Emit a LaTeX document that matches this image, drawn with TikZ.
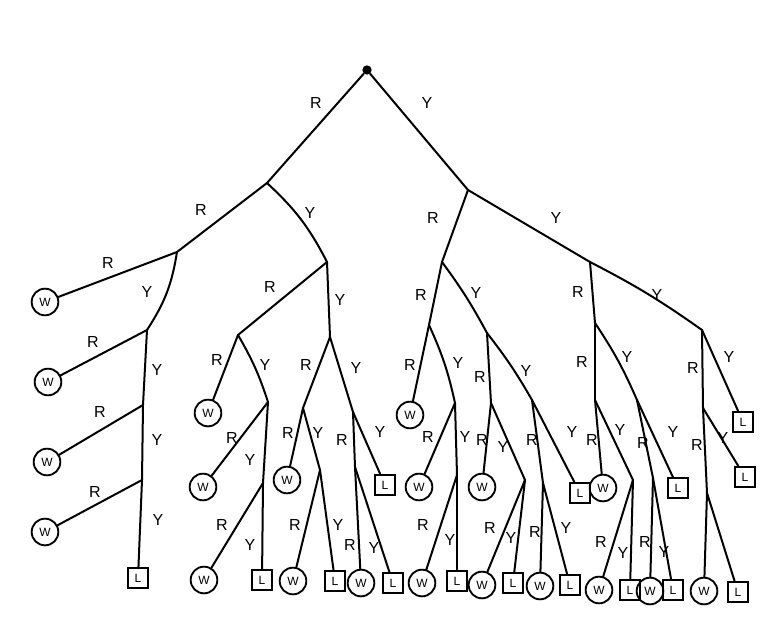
\documentclass[tikz,border=0pt]{standalone}
\usepackage{fontspec}
\setmainfont{Liberation Sans}
\begin{document}
\begin{tikzpicture}[x=0.75pt,y=-0.75pt,
  edge/.style={line width=1.5pt,line cap=round,line join=round},
  win/.style={draw,line width=1.4pt,circle,inner sep=0pt,minimum size=20pt,font=\fontsize{9}{10}\selectfont},
  lose/.style={draw,line width=1.4pt,rectangle,inner sep=0pt,minimum size=15pt,font=\fontsize{9}{10}\selectfont},
  lab/.style={font=\fontsize{12}{14}\selectfont,inner sep=0pt},
  dot/.style={circle,fill,inner sep=0pt,minimum size=7pt}]
\useasboundingbox[fill=white] (0,0) rectangle (768,639);
% internal nodes
\node[dot] (root) at (367,70) {};
\coordinate (A) at (267,183); \coordinate (B) at (468,190);
\coordinate (A1) at (177,252); \coordinate (A2) at (327,262);
\coordinate (a11) at (147,330); \coordinate (a12) at (143,405); \coordinate (a13) at (142,480);
\coordinate (c1) at (238,335); \coordinate (c2) at (330,337);
\coordinate (c11) at (268,402); \coordinate (c12) at (263,483);
\coordinate (c21) at (303,408); \coordinate (c22) at (353,412);
\coordinate (c211) at (320,470); \coordinate (c221) at (355,467);
\coordinate (B1) at (442,262); \coordinate (B2) at (590,262);
\coordinate (d1) at (429,325); \coordinate (d2) at (487,333);
\coordinate (d11) at (455,403); \coordinate (d12) at (457,475);
\coordinate (d21) at (491,403); \coordinate (d22) at (532,400);
\coordinate (d211) at (525,480); \coordinate (d221) at (543,483);
\coordinate (e1) at (595,323); \coordinate (e2) at (702,330);
\coordinate (e11) at (595,400); \coordinate (e12) at (637,400);
\coordinate (e111) at (633,480); \coordinate (e121) at (653,478);
\coordinate (e21) at (703,408); \coordinate (e211) at (707,493);
% leaves
\foreach \n/\x/\y in {w1/45/302, w2/48/382, w3/47/462, w4/45/532,
  w5/208/413, w6/203/487, w7/204/580, w8/287/480, w9/293/581, w10/361/583,
  w11/410/415, w12/419/487, w13/422/583, w14/482/487, w15/482/585, w16/540/586,
  w17/603/488, w18/599/590, w19/650/591, w20/704/591}
  \node[win] (\n) at (\x,\y) {W};
\foreach \n/\x/\y in {l1/138/578, l2/262/580, l3/335/581, l4/385/485, l5/393/583,
  l6/457/581, l7/513/583, l8/580/493, l9/570/585,
  l10/630/590, l11/678/488, l12/673/590, l13/743/422, l14/745/477, l15/738/592}
  \node[lose] (\n) at (\x,\y) {L};
% edges
\foreach \a/\b in {root/A, root/B, A/A1, A1/w1, a11/w2, a11/a12, a12/w3, a12/a13, a13/w4, a13/l1,
  A2/c1, A2/c2, c1/w5, c11/w6, c11/c12, c12/w7, c12/l2,
  c2/c21, c2/c22, c21/w8, c21/c211, c211/w9, c211/l3, c22/c221, c22/l4, c221/w10, c221/l5,
  B/B1, B/B2, B1/d1, d1/w11, d11/w12, d11/d12, d12/w13, d12/l6,
  d2/d21, d21/w14, d21/d211, d211/w15, d211/l7, d22/d221, d22/l8, d221/w16, d221/l9,
  B2/e1, e1/e11, e11/w17, e11/e111, e111/w18, e111/l10,
  e12/e121, e12/l11, e121/w19, e121/l12, e2/e21, e2/l13, e21/e211, e21/l14, e211/w20, e211/l15}
  \draw[edge] (\a) -- (\b);
\draw[edge] (A1) to[bend left=12] (a11);
\draw[edge] (A) to[bend left=10] (A2);
\draw[edge] (B2) to[bend left=4] (e2);
\draw[edge] (c1) to[bend left=6] (c11);
\draw[edge] (B1) to[bend left=4] (d2);
\draw[edge] (d1) to[bend left=6] (d11);
\draw[edge] (d2) to[bend left=4] (d22);
\draw[edge] (e1) to[bend left=5] (e12);
% labels
\foreach \x/\y/\t [count=\i] in {316/103/R, 427/103/Y, 201/210/R, 310/213/Y, 433/218/R, 556/218/Y,
  108/263/R, 147/292/Y, 93/342/R, 157/370/Y, 100/412/R, 157/440/Y, 95/492/R, 158/520/Y,
  270/287/R, 340/300/Y, 217/360/R, 265/365/Y, 232/438/R, 250/460/Y, 222/525/R, 250/545/Y,
  306/365/R, 356/368/Y, 288/433/R, 318/433/Y, 295/525/R, 338/525/Y, 342/440/R, 380/432/Y,
  350/545/R, 374/548/Y,
  421/295/R, 476/293/Y, 410/365/R, 458/363/Y, 428/437/R, 465/437/Y, 423/525/R, 450/540/Y,
  480/377/R, 526/371/Y, 482/440/R, 503/447/Y, 490/528/R, 511/538/Y, 532/440/R, 572/432/Y,
  535/532/R, 566/528/Y,
  578/292/R, 657/295/Y, 582/362/R, 627/357/Y, 592/440/R, 620/430/Y, 601/542/R, 623/553/Y,
  643/443/R, 673/432/Y, 645/542/R, 664/552/Y, 693/368/R, 729/357/Y, 697/445/R, 723/438/Y}
  \node[lab] (lab\i) at (\x,\y) {\t};
\end{tikzpicture}
\end{document}
